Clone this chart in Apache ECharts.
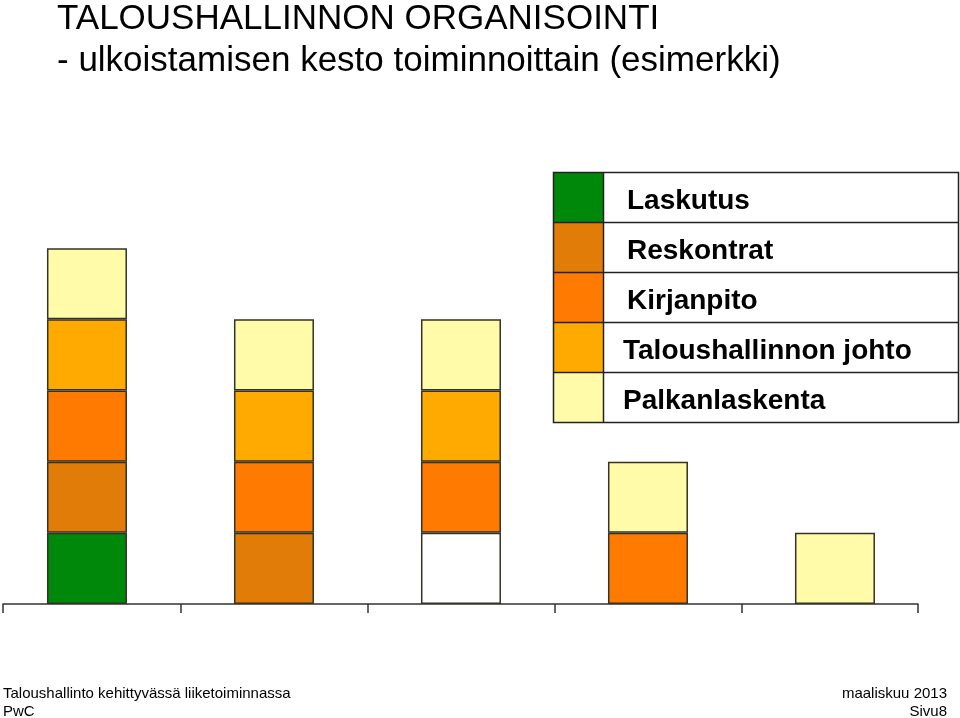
<!DOCTYPE html>
<html>
<head>
<meta charset="utf-8">
<script src="https://cdn.jsdelivr.net/npm/echarts@6/dist/echarts.min.js"></script>
<style>
html,body{margin:0;padding:0;background:#fff;}
#chart{width:960px;height:718px;}
</style>
</head>
<body>
<div id="chart"></div>
<script>
// ---- data ----
var categories = [0, 1, 2, 3, 4];           // category positions (one slot per bar)
var categoryBounds = [-0.449, 0.5, 1.5, 2.5, 3.5, 4.444]; // tick marks between categories
var seriesNames = ['Laskutus', 'Reskontrat', 'Kirjanpito', 'Taloushallinnon johto', 'Palkanlaskenta'];
var laskutus       = [1, null, null, null, null];
var tyhja          = [null, null, 1, null, null];
var reskontrat     = [1, 1, null, null, null];
var kirjanpito     = [1, 1, 1, 1, null];
var johto          = [1, 1, 1, null, null];
var palkanlaskenta = [1, 1, 1, 1, 1];
var titleLines = ['TALOUSHALLINNON ORGANISOINTI', '- ulkoistamisen kesto toiminnoittain (esimerkki)'];
var footerLeft = ['Taloushallinto kehittyvässä liiketoiminnassa', 'PwC'];
var footerRight = ['maaliskuu 2013', 'Sivu8'];

var colors = {
  'Laskutus': '#00880A',
  'Reskontrat': '#E07C07',
  'Kirjanpito': '#FF7A00',
  'Taloushallinnon johto': '#FFAA00',
  'Palkanlaskenta': '#FFFBA8'
};
var border = '#333326';
var FONT = '"Liberation Sans", Arial, sans-serif';

// value first (stacked dimension), category position second
function pairs(vals) {
  return categories.map(function (c, i) { return [vals[i] == null ? '-' : vals[i], c]; });
}
function bar(name, data, color) {
  return {
    name: name, type: 'bar', stack: 'k', data: pairs(data), barWidth: 80,
    encode: { x: 1, y: 0 },
    itemStyle: { color: color, borderColor: border, borderWidth: 1.5 },
    emphasis: { disabled: true }, animation: false
  };
}

var chart = echarts.init(document.getElementById('chart'), null, { renderer: 'canvas' });

var tableX = 553, tableY = 172, tableW = 406, rowH = 50, swatchW = 50;
var graphics = [];
graphics.push({ type: 'rect', z: 100, shape: { x: tableX + 0.5, y: tableY + 0.5, width: tableW - 1, height: rowH * 5 },
  style: { fill: 'none', stroke: '#222', lineWidth: 1.5 } });
for (var i = 1; i < 5; i++) {
  graphics.push({ type: 'line', z: 100, shape: { x1: tableX, y1: tableY + rowH * i + 0.5, x2: tableX + tableW, y2: tableY + rowH * i + 0.5 },
    style: { stroke: '#222', lineWidth: 1.5 } });
}
graphics.push({ type: 'line', z: 100, shape: { x1: tableX + swatchW + 0.5, y1: tableY, x2: tableX + swatchW + 0.5, y2: tableY + rowH * 5 },
  style: { stroke: '#222', lineWidth: 1.5 } });

// title
graphics.push({ type: 'text', x: 57, y: 19, z: 100,
  style: { text: titleLines[0], font: '35px ' + FONT, fill: '#000', verticalAlign: 'middle', align: 'left' } });
graphics.push({ type: 'text', x: 57, y: 61, z: 100,
  style: { text: titleLines[1], font: '35px ' + FONT, fill: '#000', verticalAlign: 'middle', align: 'left' } });
// footer
graphics.push({ type: 'text', x: 3, y: 694, z: 100,
  style: { text: footerLeft[0], font: '15px ' + FONT, fill: '#000', verticalAlign: 'middle', align: 'left' } });
graphics.push({ type: 'text', x: 3, y: 712, z: 100,
  style: { text: footerLeft[1], font: '15px ' + FONT, fill: '#000', verticalAlign: 'middle', align: 'left' } });
graphics.push({ type: 'text', x: 947, y: 694, z: 100,
  style: { text: footerRight[0], font: '15px ' + FONT, fill: '#000', verticalAlign: 'middle', align: 'right' } });
graphics.push({ type: 'text', x: 947, y: 712, z: 100,
  style: { text: footerRight[1], font: '15px ' + FONT, fill: '#000', verticalAlign: 'middle', align: 'right' } });

var wideNames = { 'Taloushallinnon johto': true, 'Palkanlaskenta': true };

var option = {
  backgroundColor: '#fff',
  animation: false,
  grid: { left: 3, right: 42, top: 177, height: 427, containLabel: false },
  xAxis: {
    type: 'value', min: categoryBounds[0], max: categoryBounds[categoryBounds.length - 1],
    axisLine: { show: true, lineStyle: { color: '#333', width: 1.5 } },
    axisTick: { show: true, length: 9, customValues: categoryBounds, lineStyle: { color: '#333', width: 1.5 } },
    axisLabel: { show: false },
    splitLine: { show: false }
  },
  yAxis: { type: 'value', min: 0, max: 6, show: false, splitLine: { show: false } },
  legend: {
    data: seriesNames,
    orient: 'vertical', left: tableX, top: tableY, padding: 0,
    itemGap: 0, itemWidth: swatchW, itemHeight: rowH, icon: 'rect',
    selectedMode: false,
    itemStyle: { borderWidth: 0 },
    formatter: function (name) {
      return (wideNames[name] ? '{b|' : '{a|') + name + '}';
    },
    textStyle: {
      color: '#000', fontSize: 28, fontWeight: 'bold', fontFamily: FONT,
      rich: {
        a: { color: '#000', fontSize: 28, fontWeight: 'bold', fontFamily: FONT, padding: [8, 0, 0, 19] },
        b: { color: '#000', fontSize: 28, fontWeight: 'bold', fontFamily: FONT, padding: [8, 0, 0, 15] }
      }
    }
  },
  graphic: graphics,
  series: [
    bar('Laskutus', laskutus, colors['Laskutus']),
    bar('tyhjä', tyhja, '#ffffff'),
    bar('Reskontrat', reskontrat, colors['Reskontrat']),
    bar('Kirjanpito', kirjanpito, colors['Kirjanpito']),
    bar('Taloushallinnon johto', johto, colors['Taloushallinnon johto']),
    bar('Palkanlaskenta', palkanlaskenta, colors['Palkanlaskenta'])
  ]
};
chart.setOption(option);
</script>
</body>
</html>
